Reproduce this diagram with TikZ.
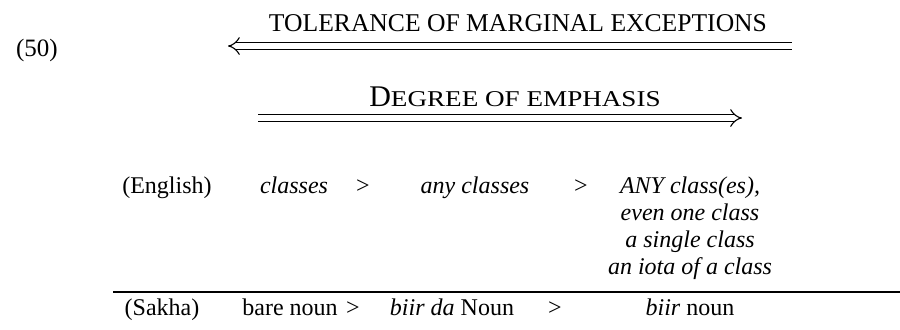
\documentclass[tikz,border=0pt]{standalone}
\usepackage{fontspec}
\setmainfont{Liberation Serif}
\usetikzlibrary{arrows.meta, positioning}

\begin{document}
\begin{tikzpicture}[x=0.5pt, y=-0.5pt,
  every node/.style={inner sep=0pt, anchor=base, font=\fontsize{12}{14}\selectfont},
  ex/.style={font=\fontsize{12}{14}\selectfont\itshape},
  scaletitle/.style={font=\fontsize{12.8}{15}\selectfont},
  scalearrow/.style={double, double distance=2.6pt, line width=0.55pt}]
  \useasboundingbox (0,0) rectangle (900,329);
  % example number
  \node[font=\fontsize{12.5}{14}\selectfont] (num) at (37,56) {(50)};
  % upper scale
  \node[scaletitle] (tol) at (518,31) {TOLERANCE OF MARGINAL EXCEPTIONS};
  \coordinate (tolL) at (228,46);
  \coordinate (tolR) at (792,46);
  \draw[scalearrow, {Implies[scale=1.4]}-] (tolL) -- (tolR);
  % lower scale
  \node[font=\fontsize{15}{16}\selectfont] (deg) at (515,106)
    {D\scalebox{1.2}[1]{\fontsize{11.3}{12}\selectfont EGREE OF EMPHASIS}};
  \coordinate (degL) at (258,118);
  \coordinate (degR) at (742,118);
  \draw[scalearrow, -{Implies[scale=1.4]}] (degL) -- (degR);
  % English row
  \node (eng) at (167,193) {(English)};
  \node[ex] (e1) at (294,193) {classes};
  \node (g1) at (363,193) {>};
  \node[ex] (e2) at (475,193) {any classes};
  \node (g2) at (581,193) {>};
  \node[ex] (e3) at (690,193) {ANY class(es),};
  \node[ex] (e3b) at (690,220) {even one class};
  \node[ex] (e3c) at (690,247) {a single class};
  \node[ex] (e3d) at (690,274) {an iota of a class};
  % rule
  \coordinate (ruleL) at (113,292);
  \coordinate (ruleR) at (900,292);
  \draw[line width=0.6pt] (ruleL) -- (ruleR);
  % Sakha row
  \node (sak) at (162,315) {(Sakha)};
  \node (s1) at (290,315) {bare noun};
  \node (h1) at (353,315) {>};
  \node (s2) at (452,315) {\textit{biir da} Noun};
  \node (h2) at (555,315) {>};
  \node (s3) at (690,315) {\textit{biir} noun};
\end{tikzpicture}
\end{document}
